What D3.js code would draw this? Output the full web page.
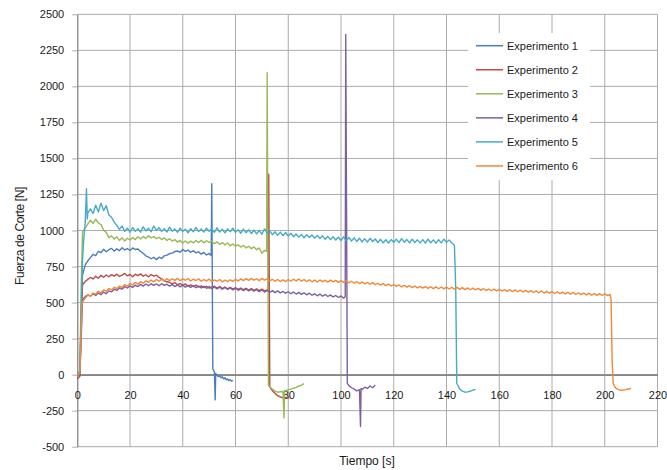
<!DOCTYPE html>
<html>
<head>
<meta charset="utf-8">
<script src="https://cdn.jsdelivr.net/npm/d3@7"></script>
<style>
body { margin: 0; background: #fff; }
text { font-family: "Liberation Sans", Arial, sans-serif; }
</style>
</head>
<body>
<div id="chart"></div>
<script>
var width = 667, height = 470;
var margin = {top: 14.3, right: 9.5, bottom: 23.3, left: 77.25};

var xTicks = [0, 20, 40, 60, 80, 100, 120, 140, 160, 180, 200, 220];
var yTicks = [-500, -250, 0, 250, 500, 750, 1000, 1250, 1500, 1750, 2000, 2250, 2500];
var names = ["Experimento 1", "Experimento 2", "Experimento 3", "Experimento 4", "Experimento 5", "Experimento 6"];
var colors = ["#4a7ebb", "#be4b48", "#98b954", "#7d60a0", "#46aac5", "#f0883a"];

// [tiempo s, fuerza N]
var exp1 = [[0,-10],[1,10],[1.5,380],[2,690],[3,762],[4,790],[5,812],[6,835],[7,826],[8,856],[9,846],[10,870],[11,852],[12,867],[13,876],[14,857],[15,873],[16,860],[17,881],[18,865],[19,875],[20,861],[21,879],[22,868],[23,872],[24,855],[25,842],[26,824],[27,816],[28,804],[29,814],[30,798],[31,815],[32,806],[33,824],[34,829],[35,840],[36,843],[37,854],[38,858],[39,849],[40,868],[41,855],[42,864],[43,849],[44,860],[45,845],[46,853],[47,836],[48,848],[49,830],[50,841],[50.8,826],[51,1325],[51.4,40],[52,18],[52.3,-175],[52.5,8],[53,-5],[53.5,-14],[54,-8],[54.5,-22],[55,-15],[55.5,-30],[56,-22],[56.5,-36],[57,-30],[57.5,-42],[58,-35],[58.5,-45],[59,-40]];

var exp2 = [[0,-30],[1,-12],[1.5,420],[2,622],[3,646],[4,661],[5,674],[6,664],[7,682],[8,669],[9,689],[10,676],[11,691],[12,679],[13,694],[14,683],[15,697],[16,681],[17,690],[18,702],[19,685],[20,695],[21,679],[22,697],[23,687],[24,699],[25,683],[26,693],[27,679],[28,695],[29,683],[30,690],[31,675],[32,664],[33,652],[34,644],[35,641],[36,630],[37,639],[38,624],[39,632],[40,619],[41,629],[42,614],[43,623],[44,611],[45,621],[46,607],[47,616],[48,604],[49,613],[50,600],[51,609],[52,613],[53,601],[54,611],[55,597],[56,608],[57,595],[58,605],[59,593],[60,603],[61,591],[62,601],[63,589],[64,599],[65,587],[66,597],[67,585],[68,595],[69,583],[70,593],[71,581],[72,588],[72.4,584],[72.6,1390],[73,-85],[74,-112],[75,-130],[76,-146],[77,-155],[78,-161],[79,-158],[80,-162],[80.5,-156]];

var exp3 = [[0,-15],[1,20],[1.5,620],[2,990],[3,1016],[4,1044],[5,1071],[6,1050],[7,1079],[8,1052],[9,1041],[10,1002],[11,987],[12,951],[13,963],[14,940],[15,956],[16,931],[17,949],[18,927],[19,946],[20,934],[21,951],[22,937],[23,957],[24,941],[25,959],[26,944],[27,963],[28,949],[29,958],[30,943],[31,953],[32,937],[33,949],[34,931],[35,943],[36,927],[37,937],[38,919],[39,931],[40,913],[41,927],[42,911],[43,926],[44,914],[45,931],[46,917],[47,933],[48,915],[49,929],[50,917],[51,926],[52,909],[53,921],[54,904],[55,917],[56,899],[57,913],[58,895],[59,906],[60,891],[61,901],[62,885],[63,896],[64,879],[65,891],[66,874],[67,886],[68,867],[69,879],[70,842],[71,863],[71.8,855],[72,2095],[72.5,-75],[73,-84],[74,-101],[75,-114],[76,-122],[77,-119],[78,-117],[78.4,-300],[78.6,-110],[79,-113],[80,-106],[81,-101],[82,-94],[83,-89],[84,-79],[85,-73],[86,-62]];

var exp4 = [[0,-10],[1,0],[1.5,260],[2,520],[3,541],[4,553],[5,544],[6,561],[7,549],[8,567],[9,554],[10,573],[11,561],[12,581],[13,574],[14,593],[15,584],[16,601],[17,593],[18,611],[19,601],[20,616],[21,605],[22,621],[23,611],[24,626],[25,614],[26,629],[27,617],[28,631],[29,619],[30,629],[31,617],[32,631],[33,619],[34,627],[35,614],[36,626],[37,611],[38,623],[39,609],[40,621],[41,607],[42,619],[43,605],[44,617],[45,603],[46,615],[47,601],[48,613],[49,599],[50,611],[51,597],[52,609],[53,595],[54,607],[55,593],[56,605],[57,591],[58,601],[59,587],[60,599],[61,585],[62,597],[63,583],[64,595],[65,581],[66,591],[67,579],[68,589],[69,575],[70,587],[71,573],[72,585],[73,571],[74,583],[75,569],[76,581],[77,567],[78,577],[79,565],[80,575],[81,561],[82,573],[83,559],[84,571],[85,557],[86,567],[87,554],[88,565],[89,551],[90,561],[91,547],[92,559],[93,545],[94,556],[95,542],[96,553],[97,539],[98,549],[99,535],[100,546],[101,531],[101.6,540],[101.8,2360],[102.4,-60],[103,-76],[104,-91],[105,-101],[106,-112],[107,-104],[107.4,-360],[107.6,-96],[108,-103],[109,-87],[110,-96],[111,-79],[112,-91],[113,-72]];

var exp5 = [[0,-10],[1,30],[1.5,450],[2,800],[2.5,950],[3,1050],[3.5,1290],[3.8,1080],[4,1120],[5,1150],[6,1118],[7,1176],[8,1128],[9,1190],[10,1138],[11,1172],[12,1108],[13,1092],[14,1058],[15,1036],[16,1008],[17,1031],[18,994],[19,1016],[20,989],[21,1021],[22,994],[23,1013],[24,989],[25,1026],[26,997],[27,1016],[28,991],[29,1031],[30,1000],[31,1019],[32,994],[33,1013],[34,989],[35,1023],[36,995],[37,1011],[38,987],[39,1016],[40,994],[41,1009],[42,984],[43,1013],[44,991],[45,1021],[46,993],[47,1011],[48,989],[49,1016],[50,995],[51,1013],[52,987],[53,1019],[54,989],[55,1009],[56,984],[57,1011],[58,991],[59,1016],[60,987],[61,1006],[62,981],[63,1009],[64,985],[65,1005],[66,979],[67,1003],[68,977],[69,999],[70,974],[71,1011],[72,984],[73,996],[74,971],[75,991],[76,967],[77,989],[78,964],[79,986],[80,961],[81,981],[82,957],[83,976],[84,954],[85,973],[86,949],[87,971],[88,951],[89,969],[90,947],[91,966],[92,944],[93,963],[94,939],[95,959],[96,937],[97,956],[98,934],[99,953],[100,931],[101,956],[102,929],[103,951],[104,927],[105,949],[106,924],[107,946],[108,921],[109,943],[110,919],[111,946],[112,924],[113,941],[114,917],[115,939],[116,914],[117,936],[118,913],[119,937],[120,918],[121,940],[122,916],[123,943],[124,919],[125,937],[126,914],[127,940],[128,917],[129,935],[130,914],[131,937],[132,912],[133,940],[134,915],[135,935],[136,912],[137,937],[138,914],[139,940],[140,919],[141,934],[142,915],[143,896],[143.5,600],[143.9,-60],[145,-100],[146,-115],[147,-122],[148,-120],[149,-115],[150,-108],[151,-102]];

var exp6 = [[0,-5],[1,10],[1.5,300],[1.8,480],[2,505],[3,530],[4,552],[5,546],[6,566],[7,558],[8,578],[9,568],[10,588],[11,579],[12,598],[13,588],[14,606],[15,597],[16,614],[17,604],[18,625],[19,614],[20,633],[21,622],[22,640],[23,628],[24,645],[25,634],[26,650],[27,640],[28,656],[29,644],[30,660],[31,648],[32,662],[33,650],[34,665],[35,652],[36,664],[37,654],[38,668],[39,651],[40,664],[41,655],[42,667],[43,650],[44,662],[45,653],[46,665],[47,648],[48,660],[49,651],[50,663],[51,645],[52,657],[53,648],[54,660],[55,644],[56,656],[57,645],[58,658],[59,647],[60,662],[61,650],[62,664],[63,652],[64,666],[65,654],[66,668],[67,655],[68,665],[69,652],[70,668],[71,656],[72,664],[73,650],[74,662],[75,648],[76,660],[77,646],[78,658],[79,645],[80,660],[81,648],[82,662],[83,650],[84,664],[85,648],[86,660],[87,646],[88,658],[89,644],[90,656],[91,643],[92,657],[93,645],[94,655],[95,642],[96,656],[97,644],[98,654],[99,640],[100,652],[101,640],[102,650],[103,637],[104,648],[105,634],[106,646],[107,632],[108,643],[109,630],[110,640],[111,627],[112,638],[113,624],[114,634],[115,621],[116,631],[117,618],[118,628],[119,615],[120,625],[121,612],[122,622],[123,609],[124,619],[125,607],[126,617],[127,604],[128,614],[129,602],[130,612],[131,600],[132,611],[133,598],[134,610],[135,597],[136,609],[137,596],[138,608],[139,595],[140,607],[141,594],[142,606],[143,593],[144,605],[145,592],[146,604],[147,590],[148,602],[149,589],[150,600],[151,588],[152,598],[153,586],[154,596],[155,584],[156,594],[157,582],[158,593],[159,581],[160,592],[161,580],[162,590],[163,578],[164,589],[165,576],[166,588],[167,575],[168,586],[169,573],[170,584],[171,572],[172,583],[173,570],[174,581],[175,568],[176,580],[177,566],[178,578],[179,565],[180,576],[181,563],[182,574],[183,562],[184,572],[185,560],[186,571],[187,558],[188,570],[189,556],[190,568],[191,555],[192,566],[193,553],[194,565],[195,552],[196,563],[197,550],[198,562],[199,549],[200,560],[201,548],[202,556],[202.4,520],[202.8,100],[203.2,-60],[204,-90],[205,-102],[206,-108],[207,-107],[208,-104],[209,-100],[210,-97]];

var experiments = [exp1, exp2, exp3, exp4, exp5, exp6];

var svg = d3.select("#chart").append("svg")
    .attr("width", width)
    .attr("height", height);

var x = d3.scaleLinear().domain([0, 220]).range([margin.left, width - margin.right]);
var y = d3.scaleLinear().domain([-500, 2500]).range([height - margin.bottom, margin.top]);

// plain numbers with an ascii minus, like the original
var plain = function(d) { return String(d); };

// grid
svg.append("g").selectAll("line")
    .data(yTicks)
    .enter().append("line")
    .attr("x1", x(0)).attr("x2", x(220))
    .attr("y1", function(d) { return y(d); })
    .attr("y2", function(d) { return y(d); })
    .attr("stroke", "#ababab").attr("stroke-width", 1);

svg.append("g").selectAll("line")
    .data(xTicks.slice(1))
    .enter().append("line")
    .attr("x1", function(d) { return x(d); })
    .attr("x2", function(d) { return x(d); })
    .attr("y1", y(2500)).attr("y2", y(-500))
    .attr("stroke", "#ababab").attr("stroke-width", 1);

// y axis
var yAxis = svg.append("g")
    .attr("transform", "translate(" + x(0) + ",0)")
    .call(d3.axisLeft(y).tickValues(yTicks).tickFormat(plain).tickSize(5).tickPadding(8).tickSizeOuter(0));
yAxis.select(".domain").attr("stroke", "#868686").attr("stroke-width", 1.3);
yAxis.selectAll(".tick line").attr("stroke", "#ababab");
yAxis.selectAll("text").attr("font-size", "11px").attr("fill", "#1a1a1a")
    .attr("font-family", "'Liberation Sans', Arial, sans-serif");

// x axis on the zero line
var xAxis = svg.append("g")
    .attr("transform", "translate(0," + y(0) + ")")
    .call(d3.axisBottom(x).tickValues(xTicks).tickFormat(plain).tickSize(0).tickPadding(17).tickSizeOuter(0));
xAxis.select(".domain").attr("stroke", "#868686").attr("stroke-width", 1.6);
xAxis.selectAll("text").attr("font-size", "11px").attr("fill", "#1a1a1a")
    .attr("font-family", "'Liberation Sans', Arial, sans-serif");

// series, first one at the bottom
var line = d3.line()
    .x(function(d) { return x(d[0]); })
    .y(function(d) { return y(d[1]); });

svg.append("g").selectAll("path")
    .data(experiments)
    .enter().append("path")
    .attr("d", line)
    .attr("fill", "none")
    .attr("stroke", function(d, i) { return colors[i]; })
    .attr("stroke-width", 1.4)
    .attr("stroke-linejoin", "round");

// legend
var legend = svg.append("g");
legend.append("rect")
    .attr("x", 468).attr("y", 33).attr("width", 122).attr("height", 147)
    .attr("fill", "#fff");
var rows = legend.selectAll("g.row")
    .data(names)
    .enter().append("g")
    .attr("class", "row")
    .attr("transform", function(d, i) { return "translate(476," + (45.7 + i * 24.05) + ")"; });
rows.append("line")
    .attr("x1", 0).attr("x2", 27)
    .attr("stroke", function(d, i) { return colors[i]; })
    .attr("stroke-width", 1.5);
rows.append("text")
    .attr("x", 31).attr("dy", "0.35em")
    .attr("font-size", "11px").attr("fill", "#1a1a1a")
    .text(function(d) { return d; });

// axis titles
svg.append("text")
    .attr("transform", "translate(20,236) rotate(-90)")
    .attr("text-anchor", "middle")
    .attr("dy", "0.35em")
    .attr("font-size", "12px")
    .attr("letter-spacing", "-0.4px")
    .attr("fill", "#1a1a1a")
    .text("Fuerza de Corte [N]");

svg.append("text")
    .attr("x", 367).attr("y", 465)
    .attr("text-anchor", "middle")
    .attr("font-size", "12px")
    .attr("fill", "#1a1a1a")
    .text("Tiempo [s]");
</script>
</body>
</html>
